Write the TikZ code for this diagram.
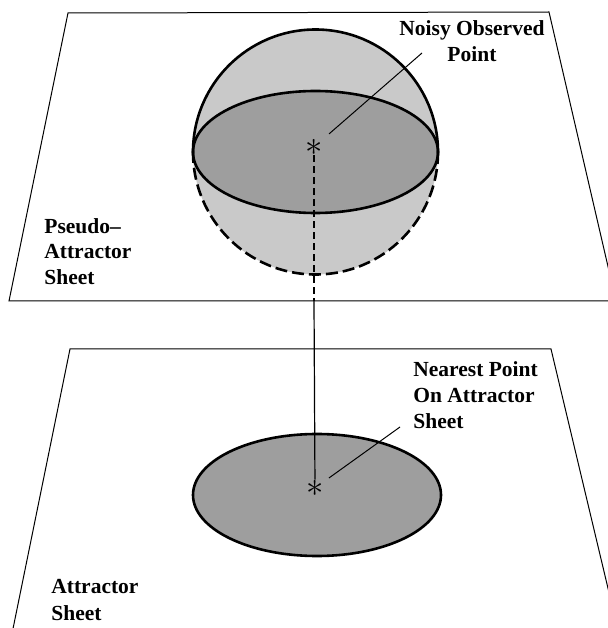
\documentclass[tikz,border=0pt]{standalone}
\usepackage{fontspec}
\setmainfont{Liberation Serif}
\definecolor{shadelight}{gray}{0.79}
\definecolor{shadedark}{gray}{0.62}
\tikzset{
  sheet/.style={line width=0.5pt},
  rim/.style={line width=1.3pt},
  hidden/.style={line width=1.3pt, dash pattern=on 6pt off 2.5pt},
  drop/.style={line width=0.6pt},
  leader/.style={line width=0.5pt},
  tag/.style={font=\bfseries\fontsize{10.75}{13}\selectfont,
              align=left, inner sep=0pt, anchor=base west},
  star/.style={inner sep=0pt, font=\LARGE},
}

\begin{document}
\begin{tikzpicture}[x=0.5pt, y=0.5pt]
  \useasboundingbox (0,0) rectangle (608,628);
  \clip (0,0) rectangle (608,628);

  % the two sheets
  \draw[sheet] (68,615) -- (549,616) -- (616,327) -- (9,327) -- cycle;
  \draw[sheet] (5,-40) -- (70,279) -- (551,279) -- (627,-40);

  % noise ball on the upper sheet
  \fill[shadelight] (315.5,476) circle[radius=122.5];
  \fill[shadedark] (315.5,476) ellipse[x radius=122.5, y radius=61];
  \draw[rim] (438,476) arc[start angle=0, end angle=180, radius=122.5];
  \draw[hidden] (438,476) arc[start angle=0, end angle=-180, radius=122.5];
  \draw[rim] (315.5,476) ellipse[x radius=122.5, y radius=61];

  % disc on the lower sheet
  \filldraw[shadedark, draw=black, line width=1.3pt]
    (317,133) ellipse[x radius=124, y radius=61];

  % points
  \node[star] (obs) at (314,481) {$\ast$};
  \node[star] (near) at (315,140) {$\ast$};
  \coordinate (cross) at (314,327);
  \coordinate (obstip) at (422,575);
  \coordinate (neartip) at (400,201);

  \draw[drop, dash pattern=on 3.5pt off 2pt] (obs) -- (cross);
  \draw[drop] (cross) -- (near);
  \draw[leader, shorten <=4pt] (obs) -- (obstip);
  \draw[leader, shorten <=3pt] (near) -- (neartip);

  % labels (anchored at the baseline of the last line)
  \node[tag, align=center] (noisy) at (399,566) {Noisy Observed\\Point};
  \node[tag] (pseudo) at (44,343) {Pseudo--\\Attractor\\Sheet};
  \node[tag] (nearest) at (413,199) {Nearest Point\\On Attractor\\Sheet};
  \node[tag] (attr) at (51,8) {Attractor\\Sheet};
\end{tikzpicture}
\end{document}
